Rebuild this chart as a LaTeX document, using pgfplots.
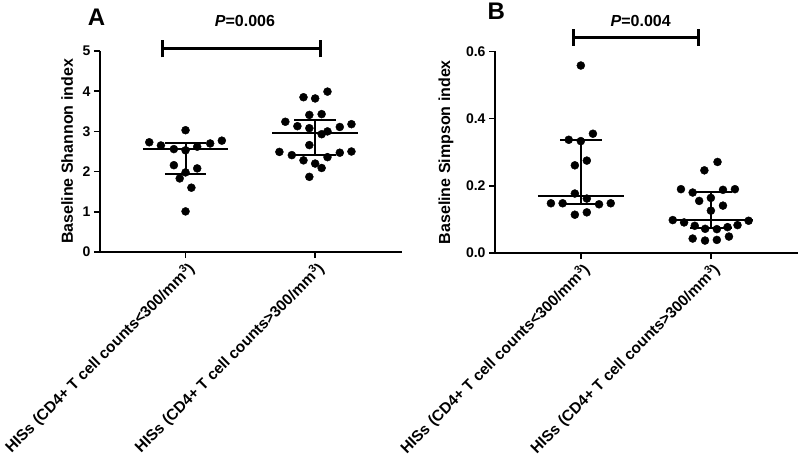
\documentclass[border=0pt]{standalone}
\usepackage{fontspec}
\setmainfont{Liberation Sans}
\usepackage{pgfplots}
\pgfplotsset{compat=1.18}
\pgfplotsset{
  gp/.style={
    scale only axis,
    width=302pt, height=201pt,
    axis x line=bottom, axis y line=left,
    axis line style={-, line width=2pt, black},
    tick style={line width=1.5pt, black},
    major tick length=6pt, tick align=outside,
    xmin=-0.66, xmax=1.67, ymin=0,
    xtick={0,1},
    xticklabels={{HISs (CD4+ T cell counts<300/mm\textsuperscript{3})},{HISs (CD4+ T cell counts>300/mm\textsuperscript{3})}},
    xticklabel style={rotate=45, anchor=north east, font=\fontsize{15.4}{16}\selectfont\bfseries, inner sep=1pt, yshift=-1pt},
    yticklabel style={font=\fontsize{14}{14}\selectfont\bfseries},
    ylabel style={font=\fontsize{16}{16}\selectfont\bfseries, anchor=center},
    /pgf/number format/assume math mode=true,
    clip=false,
  },
  dots/.style={only marks, mark=*, mark size=4pt, black},
  med/.style={black, line width=2pt},
  brk/.style={black, line width=3pt},
}
\begin{document}
\begin{tikzpicture}
\useasboundingbox (0,0) rectangle (800pt,-458pt);
% Panel A
\begin{axis}[gp, at={(100pt,-252pt)}, anchor=south west,
  ymax=5, ytick={0,1,2,3,4,5},
  ylabel={Baseline Shannon index},
  ylabel style={at={(axis description cs:-0.109,0.5)}}]
\addplot[dots] table {
x y
-0.28 2.73
-0.19 2.65
-0.09 2.56
0 3.03
0 2.53
0.09 2.62
0.19 2.70
0.28 2.77
-0.09 2.16
0.09 2.08
0 1.98
-0.045 1.83
0.045 1.60
0 1.01
};
\addplot[dots] table {
x y
1.095 3.99
0.91 3.85
1.0 3.82
0.77 3.24
0.955 3.41
1.05 3.43
0.863 3.13
0.955 3.08
1.05 2.93
1.095 3.00
1.19 3.11
1.28 3.18
0.955 2.66
0.724 2.49
0.82 2.41
0.91 2.28
1.0 2.20
1.095 2.36
1.19 2.47
1.28 2.50
1.05 2.09
0.955 1.87
};
% median and IQR group 1
\addplot[med] coordinates {(-0.33,2.555) (0.33,2.555)};
\addplot[med] coordinates {(-0.16,2.70) (0.16,2.70)};
\addplot[med] coordinates {(-0.16,1.93) (0.16,1.93)};
\addplot[med] coordinates {(0,1.93) (0,2.70)};
% group 2
\addplot[med] coordinates {(0.67,2.97) (1.33,2.97)};
\addplot[med] coordinates {(0.84,3.28) (1.16,3.28)};
\addplot[med] coordinates {(0.84,2.41) (1.16,2.41)};
\addplot[med] coordinates {(1,2.41) (1,3.28)};
% bracket
\addplot[brk] coordinates {(-0.175,5.06) (1.045,5.06)};
\addplot[brk] coordinates {(-0.175,4.84) (-0.175,5.27)};
\addplot[brk] coordinates {(1.045,4.84) (1.045,5.27)};
\node[font=\fontsize{16}{16}\selectfont\bfseries] at (axis cs:0.458,5.75) {\textit{P}=0.006};
\node[font=\fontsize{24}{24}\selectfont\bfseries] at (axis cs:-0.687,5.83) {A};
\end{axis}
% Panel B
\begin{axis}[gp, at={(495pt,-253pt)}, anchor=south west, width=303pt, height=201.6pt,
  ymax=0.6, ytick={0,0.2,0.4,0.6},
  yticklabel style={/pgf/number format/.cd, fixed, fixed zerofill, precision=1},
  ylabel={Baseline Simpson index},
  ylabel style={at={(axis description cs:-0.162,0.5)}}]
\addplot[dots] table {
x y
0 0.558
0.093 0.355
-0.093 0.337
0 0.333
0.046 0.275
-0.046 0.261
-0.046 0.177
0.046 0.162
-0.23 0.148
-0.14 0.148
0.14 0.145
0.23 0.148
-0.046 0.114
0.046 0.121
};
\addplot[dots] table {
x y
1.051 0.271
0.95 0.246
0.77 0.190
0.86 0.180
1.093 0.188
1.185 0.190
0.91 0.155
1.0 0.164
1.093 0.141
1.0 0.126
0.707 0.098
0.794 0.091
1.29 0.096
1.205 0.083
0.876 0.081
0.956 0.072
1.046 0.071
1.128 0.077
0.86 0.043
0.955 0.037
1.046 0.039
1.139 0.049
};
\addplot[med] coordinates {(-0.33,0.169) (0.33,0.169)};
\addplot[med] coordinates {(-0.16,0.336) (0.16,0.336)};
\addplot[med] coordinates {(-0.16,0.146) (0.16,0.146)};
\addplot[med] coordinates {(0,0.146) (0,0.336)};
\addplot[med] coordinates {(0.675,0.097) (1.325,0.097)};
\addplot[med] coordinates {(0.84,0.181) (1.16,0.181)};
\addplot[med] coordinates {(0.84,0.073) (1.16,0.073)};
\addplot[med] coordinates {(1,0.073) (1,0.181)};
\addplot[brk] coordinates {(-0.06,0.642) (0.905,0.642)};
\addplot[brk] coordinates {(-0.06,0.617) (-0.06,0.668)};
\addplot[brk] coordinates {(0.905,0.617) (0.905,0.668)};
\node[font=\fontsize{16}{16}\selectfont\bfseries] at (axis cs:0.46,0.69) {\textit{P}=0.004};
\node[font=\fontsize{24}{24}\selectfont\bfseries] at (axis cs:-0.65,0.72) {B};
\end{axis}
\end{tikzpicture}
\end{document}
